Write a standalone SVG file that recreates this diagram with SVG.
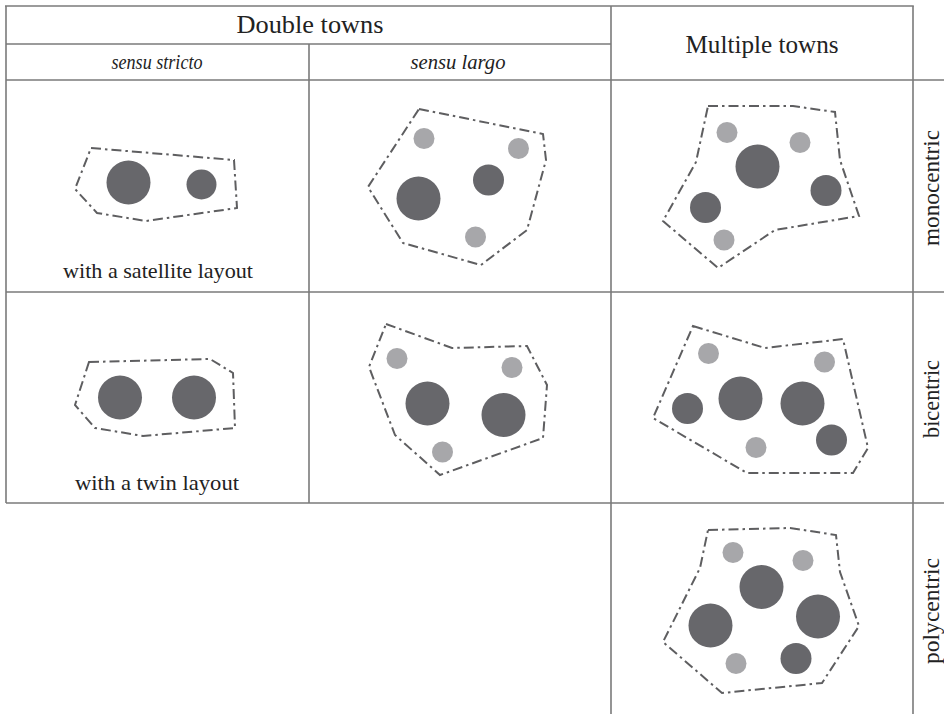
<svg xmlns="http://www.w3.org/2000/svg" width="944" height="714" viewBox="0 0 944 714">
  <style>
    .grid { stroke: #7a7a7a; stroke-width: 1.6; fill: none; }
    .bound { fill: none; stroke: #5e5e60; stroke-width: 2; stroke-dasharray: 10 4 2.5 4; stroke-linejoin: miter; }
    .big { fill: #67676b; }
    .mid { fill: #67676b; }
    .small { fill: #a7a7aa; }
    text { fill: #222; text-anchor: middle; font-family: 'Liberation Serif', 'Times New Roman', serif; }
    .head { font-size: 25px; }
    .sub { font-size: 21px; font-style: italic; }
    .cap { font-size: 22px; }
    .side { font-size: 23px; }
  </style>
  <rect width="944" height="714" fill="#ffffff"/>

  <!-- table grid -->
  <g id="grid" class="grid">
    <line x1="5" y1="6" x2="913.8" y2="6"/>
    <line x1="6" y1="6" x2="6" y2="503"/>
    <line x1="309" y1="44" x2="309" y2="503"/>
    <line x1="611" y1="6" x2="611" y2="714"/>
    <line x1="913" y1="6" x2="913" y2="714"/>
    <line x1="6" y1="44" x2="611" y2="44"/>
    <line x1="6" y1="80" x2="944" y2="80"/>
    <line x1="6" y1="292" x2="944" y2="292"/>
    <line x1="6" y1="503" x2="944" y2="503"/>
  </g>

  <!-- headings -->
  <g id="headings">
    <text class="head" x="310" y="33" textLength="147" lengthAdjust="spacingAndGlyphs">Double towns</text>
    <text class="head" x="762" y="53" textLength="153" lengthAdjust="spacingAndGlyphs">Multiple towns</text>
    <text class="sub" x="157" y="69" textLength="91" lengthAdjust="spacingAndGlyphs">sensu stricto</text>
    <text class="sub" x="458" y="69" textLength="95" lengthAdjust="spacingAndGlyphs">sensu largo</text>
    <text class="side" transform="translate(939 188) rotate(-90)" x="0" y="0" textLength="116" lengthAdjust="spacingAndGlyphs">monocentric</text>
    <text class="side" transform="translate(939 399) rotate(-90)" x="0" y="0" textLength="78" lengthAdjust="spacingAndGlyphs">bicentric</text>
    <text class="side" transform="translate(939 611) rotate(-90)" x="0" y="0" textLength="106" lengthAdjust="spacingAndGlyphs">polycentric</text>
  </g>

  <!-- double town, satellite layout -->
  <g id="satellite">
    <polygon class="bound" points="91,148 234,160 237,208 146,221 97,213 75,189"/>
    <circle class="big" cx="128.5" cy="182.5" r="22"/>
    <circle class="mid" cx="201.5" cy="184.5" r="15"/>
    <text class="cap" x="158" y="278" textLength="190" lengthAdjust="spacingAndGlyphs">with a satellite layout</text>
  </g>

  <!-- double town sensu largo, monocentric -->
  <g id="largo-mono">
    <polygon class="bound" points="419,109 543,134 546,160 527,230 481,265 403,243 368,187"/>
    <circle class="small" cx="424" cy="138.5" r="10.5"/>
    <circle class="small" cx="518.5" cy="148.5" r="10.5"/>
    <circle class="mid" cx="488.5" cy="180" r="15.5"/>
    <circle class="big" cx="418.5" cy="198.5" r="22"/>
    <circle class="small" cx="475.5" cy="237" r="10.5"/>
  </g>

  <!-- multiple towns, monocentric -->
  <g id="multi-mono">
    <polygon class="bound" points="708,106 793,106 835,112 840,160 859,216 775,230 718,268 663,221 696,162"/>
    <circle class="small" cx="727" cy="132.5" r="10.5"/>
    <circle class="small" cx="800" cy="142.5" r="10.5"/>
    <circle class="big" cx="757.5" cy="166.5" r="22"/>
    <circle class="mid" cx="826" cy="190.5" r="15.5"/>
    <circle class="mid" cx="705.5" cy="207.5" r="15.5"/>
    <circle class="small" cx="724" cy="240" r="10.5"/>
  </g>

  <!-- double town, twin layout -->
  <g id="twin">
    <polygon class="bound" points="89,362 210,359 233,373 235,428 143,436 95,428 75,405"/>
    <circle class="big" cx="120" cy="397.5" r="22"/>
    <circle class="big" cx="194" cy="397.5" r="22"/>
    <text class="cap" x="157" y="490" textLength="164" lengthAdjust="spacingAndGlyphs">with a twin layout</text>
  </g>

  <!-- double town sensu largo, bicentric -->
  <g id="largo-bi">
    <polygon class="bound" points="386,324 452,348 527,346 547,385 543,438 440,475 395,435 369,367"/>
    <circle class="small" cx="397" cy="358.5" r="10.5"/>
    <circle class="small" cx="512" cy="367.5" r="10.5"/>
    <circle class="big" cx="427.5" cy="403.5" r="22"/>
    <circle class="big" cx="503.5" cy="415" r="22"/>
    <circle class="small" cx="442.5" cy="452" r="10.5"/>
  </g>

  <!-- multiple towns, bicentric -->
  <g id="multi-bi">
    <polygon class="bound" points="693,326 765,348 843,339 868,448 853,473 747,473 653,418"/>
    <circle class="small" cx="708.5" cy="353.5" r="10.5"/>
    <circle class="small" cx="824.5" cy="362" r="10.5"/>
    <circle class="mid" cx="687.5" cy="408.5" r="15.5"/>
    <circle class="big" cx="740.5" cy="398.5" r="22"/>
    <circle class="big" cx="802.5" cy="403.5" r="22"/>
    <circle class="mid" cx="831.5" cy="440" r="15.5"/>
    <circle class="small" cx="756" cy="447.5" r="10.5"/>
  </g>

  <!-- multiple towns, polycentric -->
  <g id="multi-poly">
    <polygon class="bound" points="708,530 790,528 836,535 840,572 859,626 822,683 722,693 663,642 700,568"/>
    <circle class="small" cx="733" cy="552.5" r="10.5"/>
    <circle class="small" cx="803" cy="560.5" r="10.5"/>
    <circle class="big" cx="761.5" cy="587" r="22"/>
    <circle class="big" cx="710.5" cy="625.5" r="22"/>
    <circle class="big" cx="818" cy="616.5" r="22"/>
    <circle class="mid" cx="796" cy="658.5" r="15.5"/>
    <circle class="small" cx="736" cy="663.5" r="10.5"/>
  </g>
</svg>
